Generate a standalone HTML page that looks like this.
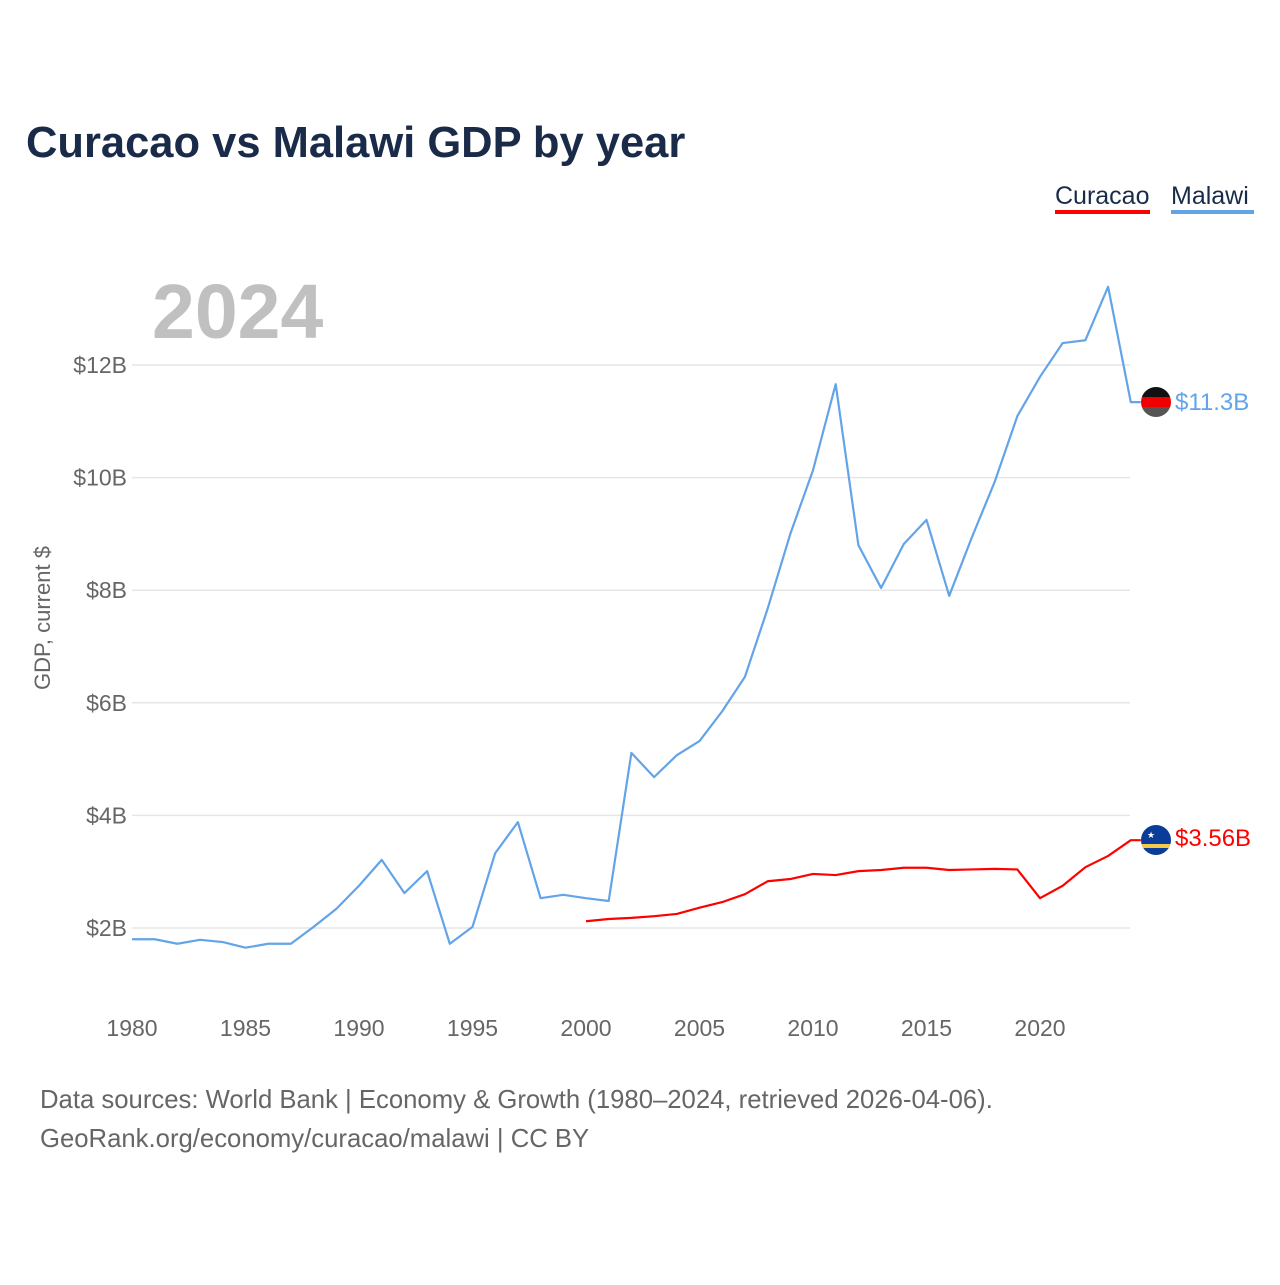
<!DOCTYPE html>
<html><head><meta charset="utf-8"><style>
body{margin:0;background:#fff;font-family:"Liberation Sans",sans-serif}
</style></head><body>
<svg width="1280" height="1280" xmlns="http://www.w3.org/2000/svg" style="font-family:'Liberation Sans',sans-serif">
<text x="26" y="157" font-size="43.5" font-weight="bold" fill="#1a2b4a">Curacao vs Malawi GDP by year</text>
<g>
<text x="1055" y="204" font-size="25" fill="#1a2b4a">Curacao</text>
<rect x="1055" y="210" width="95" height="4" fill="#ff0000"/>
<text x="1171" y="204" font-size="25" fill="#1a2b4a">Malawi</text>
<rect x="1171" y="210" width="83" height="4" fill="#63a4e8"/>
</g>
<text x="152" y="338" font-size="77" font-weight="bold" fill="#c0c0c0">2024</text>
<text transform="translate(50,618) rotate(-90)" text-anchor="middle" font-size="22" fill="#666">GDP, current $</text>
<g id="grid"></g><g id="yticks"></g><g id="xticks"></g><g id="lines"></g>
<g><clipPath id="cm"><circle cx="1156" cy="402" r="15"/></clipPath><g clip-path="url(#cm)"><rect x="1141" y="387" width="30" height="10" fill="#111"/><rect x="1141" y="397" width="30" height="10" fill="#e00"/><rect x="1141" y="407" width="30" height="10" fill="#555"/></g></g>
<text x="1175" y="410" font-size="24" fill="#63a4e8">$11.3B</text>
<g><clipPath id="cc"><circle cx="1156" cy="840" r="15"/></clipPath><g clip-path="url(#cc)"><rect x="1141" y="825" width="30" height="30" fill="#0a3d9a"/><rect x="1141" y="844" width="30" height="4" fill="#f7c948"/></g><text x="1147" y="838" font-size="9" fill="#fff">★</text></g>
<text x="1175" y="846" font-size="24" fill="#ff0000">$3.56B</text>
<text x="40" y="1108" font-size="25.7" fill="#666">Data sources: World Bank | Economy &amp; Growth (1980–2024, retrieved 2026-04-06).</text>
<text x="40" y="1147" font-size="25.7" fill="#666">GeoRank.org/economy/curacao/malawi | CC BY</text>
</svg>
<script>
const malawiYears=[1980,1981,1982,1983,1984,1985,1986,1987,1988,1989,1990,1991,1992,1993,1994,1995,1996,1997,1998,1999,2000,2001,2002,2003,2004,2005,2006,2007,2008,2009,2010,2011,2012,2013,2014,2015,2016,2017,2018,2019,2020,2021,2022,2023,2024];
const malawiValues=[1.80,1.80,1.72,1.79,1.75,1.65,1.72,1.72,2.02,2.34,2.75,3.21,2.62,3.01,1.72,2.02,3.33,3.88,2.53,2.59,2.53,2.48,5.11,4.68,5.07,5.32,5.85,6.46,7.67,9.00,10.13,11.66,8.80,8.04,8.82,9.25,7.90,8.94,9.92,11.09,11.79,12.39,12.44,13.39,11.34];
const curacaoYears=[2000,2001,2002,2003,2004,2005,2006,2007,2008,2009,2010,2011,2012,2013,2014,2015,2016,2017,2018,2019,2020,2021,2022,2023,2024];
const curacaoValues=[2.12,2.16,2.18,2.21,2.25,2.36,2.46,2.60,2.83,2.87,2.96,2.94,3.01,3.03,3.07,3.07,3.03,3.04,3.05,3.04,2.53,2.75,3.08,3.28,3.56];
const yTicks=[2,4,6,8,10,12];
const xTicks=[1980,1985,1990,1995,2000,2005,2010,2015,2020];
const NS="http://www.w3.org/2000/svg";
const x=yr=>132+(yr-1980)*22.7;
const y=v=>928-(v-2)*56.3;
function mk(t,a,p){const e=document.createElementNS(NS,t);for(const k in a)e.setAttribute(k,a[k]);document.getElementById(p).appendChild(e);return e;}
yTicks.forEach(v=>{
 const l=mk('line',{x1:132,x2:1130,y1:y(v),y2:y(v),stroke:'#e6e6e6','stroke-width':1.5},'grid');
 
 
 const t=mk('text',{x:127,y:y(v)+8,'text-anchor':'end','font-size':23,fill:'#666'},'yticks');
 t.textContent='$'+v+'B';
 
 
});
xTicks.forEach(v=>{
 const t=mk('text',{x:x(v),y:1036,'text-anchor':'middle','font-size':23,fill:'#666'},'xticks');
 t.textContent=v;
 
 
});
function line(ys,vs,c,n){
 const pts=ys.map((yr,i)=>x(yr)+','+y(vs[i]));
 const last=vs[vs.length-1];
 pts.push((x(ys[ys.length-1])+10)+','+y(last));
 const p=mk('polyline',{points:pts.join(' '),fill:'none',stroke:c,'stroke-width':2.2,'stroke-linejoin':'round'},'lines');
 
 
}
line(malawiYears,malawiValues,'#63a4e8','malawi-line');
line(curacaoYears,curacaoValues,'#ff0000','curacao-line');
</script>
</body></html>
